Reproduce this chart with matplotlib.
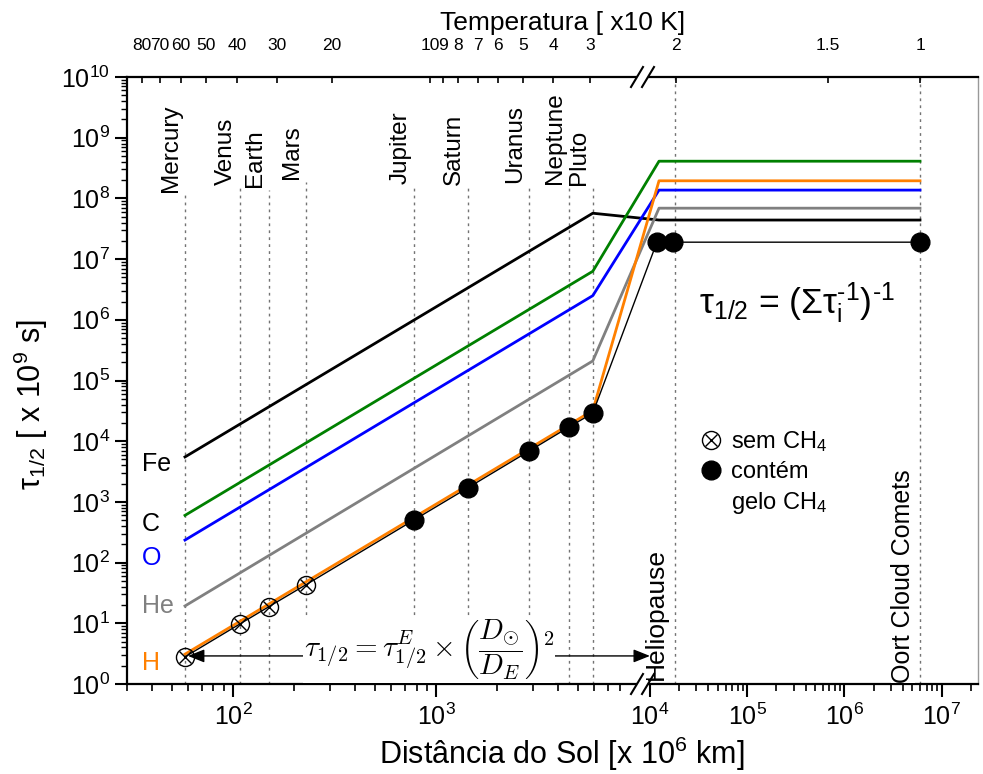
import numpy as np
import matplotlib
matplotlib.use('Agg')
import matplotlib.pyplot as plt
from matplotlib.lines import Line2D
from matplotlib.patches import Rectangle
from matplotlib.ticker import FixedLocator, FixedFormatter, NullLocator, LogLocator, FuncFormatter, NullFormatter
from matplotlib.legend_handler import HandlerTuple

plt.rcParams['font.family'] = ['Liberation Sans', 'DejaVu Sans']
plt.rcParams['mathtext.fontset'] = 'custom'
plt.rcParams['mathtext.rm'] = 'Liberation Sans'
plt.rcParams['mathtext.it'] = 'Liberation Sans:italic'
plt.rcParams['mathtext.bf'] = 'Liberation Sans:bold'
plt.rcParams['mathtext.sf'] = 'Liberation Sans'

# ---------------- data ----------------
planets = ['Mercury', 'Venus', 'Earth', 'Mars', 'Jupiter', 'Saturn', 'Uranus', 'Neptune', 'Pluto']
planet_dist = [57.9, 108.2, 149.6, 227.9, 778.5, 1433.5, 2872.5, 4495.1, 5906.4]
heliopause_dist = 1.8e4
oort_dist = 6.0e6

model_x = [57.9, 5906.4, 1.24e4, 6.0e6]
tau_Fe = [5.5e3, 5.7e7, 4.4e7, 4.4e7]
tau_C = [6.0e2, 6.3e6, 4.1e8, 4.1e8]
tau_O = [2.35e2, 2.5e6, 1.37e8, 1.37e8]
tau_He = [19.3, 2.1e5, 6.9e7, 6.9e7]
tau_H = [3.1, 3.2e4, 1.95e8, 1.95e8]

obs_x = [57.9, 108.2, 149.6, 227.9, 778.5, 1433.5, 2872.5, 4495.1, 5906.4, 1.18e4, 1.73e4, 6.0e6]
obs_tau = [2.8, 9.8, 18.7, 43, 505, 1710, 6900, 17000, 29000, 1.9e7, 1.9e7, 1.9e7]
n_no_ch4 = 4

elements = ['Fe', 'C', 'O', 'He', 'H']
element_text_colors = ['black', 'black', '#0000FF', '#808080', '#FF8000']
element_line_colors = ['black', '#008000', '#0000FF', '#808080', '#FF8000']
element_label_y = [4.2e3, 4.3e2, 1.19e2, 19.3, 2.2]
element_label_x = 35.6

temp_labels = ['80', '70', '60', '50', '40', '30', '20', '10', '9', '8', '7', '6', '5', '4', '3', '2', '1.5', '1']
temp_dist = [35.5, 43.6, 55.4, 73.4, 104.5, 164, 307, 933, 1081, 1282, 1610, 2020, 2680, 3767, 5730, 1.85e4, 6.8e5, 6.0e6]

x_major_exp = [2, 3, 4, 5, 6, 7]
x_minor = [30, 40, 50, 60, 70, 80, 90, 200, 300, 400, 500, 600, 700, 800, 900,
           2000, 3000, 4000, 5000, 6000, 7000, 8000,
           2e4, 3e4, 4e4, 5e4, 6e4, 7e4, 8e4, 9e4,
           2e5, 3e5, 4e5, 5e5, 6e5, 7e5, 8e5, 9e5,
           2e6, 3e6, 4e6, 5e6, 6e6, 7e6, 8e6, 9e6, 2e7]

# ---------------- broken log scale ----------------
L0 = np.log10(30.0)
S1 = 203.0
S2 = 97.2
LB1 = np.log10(9000.0)
LB2 = 4.0
PB1 = (LB1 - L0) * S1
PB2 = PB1 + 20.0


def fwd(x):
    x = np.asarray(x, dtype=float)
    lx = np.log10(np.where(x > 0, x, 1e-300))
    return np.where(lx <= LB1, (lx - L0) * S1,
                    np.where(lx <= LB2, PB1 + (lx - LB1) / (LB2 - LB1) * (PB2 - PB1),
                             PB2 + (lx - LB2) * S2))


def inv(p):
    p = np.asarray(p, dtype=float)
    lx = np.where(p <= PB1, p / S1 + L0,
                  np.where(p <= PB2, LB1 + (p - PB1) / (PB2 - PB1) * (LB2 - LB1),
                           LB2 + (p - PB2) / S2))
    return 10.0 ** lx


W, H = 983, 774
fig = plt.figure(figsize=(W / 100, H / 100), dpi=100)
ax = fig.add_axes([127 / W, (H - 684) / H, (978 - 127) / W, (684 - 77) / H])
ax.set_xscale('function', functions=(fwd, inv))
ax.set_yscale('log')
ax.set_xlim(30, 2.37e7)
ax.set_ylim(1, 1e10)

dot_style = dict(color='0.45', lw=1.0, ls=(0, (2, 3)), zorder=1)
planet_line_top = [0.806, 0.817, 0.814, 0.827, 0.819, 0.817, 0.820, 0.819, 0.817]
for name, x, top in zip(planets, planet_dist, planet_line_top):
    ax.axvline(x, 0, top, **dot_style)
    ax.annotate(name, xy=(x, top), xycoords=('data', 'axes fraction'),
                xytext=(-2, 2), textcoords='offset points', rotation=90,
                ha='right', va='bottom', fontsize=17.5)
ax.axvline(heliopause_dist, **dot_style)
ax.axvline(oort_dist, **dot_style)

# model lines
for vals, col in zip([tau_Fe, tau_C, tau_O, tau_He, tau_H], element_line_colors):
    ax.plot(model_x, vals, color=col, lw=2.0, zorder=2)

# observations
ax.plot(obs_x, obs_tau, color='k', lw=1.0, zorder=3)
ax.plot(obs_x[:n_no_ch4], obs_tau[:n_no_ch4], ls='none', marker='o', ms=13,
        mfc='none', mec='k', mew=1.0, zorder=4)
ax.plot(obs_x[:n_no_ch4], obs_tau[:n_no_ch4], ls='none', marker='x', ms=9.2,
        mec='k', mew=1.0, zorder=4)
ax.plot(obs_x[n_no_ch4:], obs_tau[n_no_ch4:], ls='none', marker='o', ms=13.5,
        color='k', zorder=4)

# element labels
for name, col, y in zip(elements, element_text_colors, element_label_y):
    ax.text(element_label_x, y, name, color=col, fontsize=18, ha='left', va='center')

# formulas
ax.text(925, 3.6, r'$\tau_{1/2} = \tau^{E}_{1/2}\times\left(\dfrac{D_{\odot}}{D_E}\right)^2$',
        math_fontfamily='cm', fontsize=21, ha='center', va='center', zorder=5,
        bbox=dict(fc='white', ec='none', pad=0.5))
ax.annotate('', xy=(59.9, 2.9), xytext=(226, 2.9),
            arrowprops=dict(arrowstyle='-|>,head_length=0.5,head_width=0.2', color='k',
                            lw=1, mutation_scale=20, shrinkA=0, shrinkB=0))
ax.annotate('', xy=(1.0e4, 2.9), xytext=(3725, 2.9),
            arrowprops=dict(arrowstyle='-|>,head_length=0.5,head_width=0.2', color='k',
                            lw=1, mutation_scale=20, shrinkA=0, shrinkB=0))
ax.text(3.26e5, 1.29e6, 'τ$_\\mathrm{1/2}$ = (Στ$_\\mathrm{i}^\\text{-1}$)$^\\text{-1}$',
        fontsize=25.5, ha='center', va='baseline')

ax.annotate('Heliopause', xy=(heliopause_dist, 0), xycoords=('data', 'axes fraction'),
            xytext=(-5, 3), textcoords='offset points', rotation=90,
            ha='right', va='bottom', fontsize=19)
ax.annotate('Oort Cloud Comets', xy=(oort_dist, 0), xycoords=('data', 'axes fraction'),
            xytext=(-3.5, 0.5), textcoords='offset points', rotation=90,
            ha='right', va='bottom', fontsize=18, zorder=6,
            bbox=dict(fc='white', ec='none', pad=0))

# legend
h_open = (Line2D([], [], ls='none', marker='o', ms=13, mfc='none', mec='k', mew=1.0),
          Line2D([], [], ls='none', marker='x', ms=9.2, mec='k', mew=1.0))
h_fill = Line2D([], [], ls='none', marker='o', ms=13.5, color='k')
h_none = Line2D([], [], ls='none')
ax.legend([h_open, h_fill, h_none], ['sem CH$_\\mathrm{4}$', 'contém', 'gelo CH$_\\mathrm{4}$'],
          handler_map={tuple: HandlerTuple(ndivide=1)}, loc='upper left',
          bbox_to_anchor=(700 / W, 1 - 429 / H), bbox_transform=fig.transFigure,
          frameon=False, fontsize=17, handlelength=0.95, handletextpad=0.38,
          labelspacing=0.3, borderpad=0, borderaxespad=0)

# axes styling
ax.xaxis.set_major_locator(FixedLocator([10.0 ** e for e in x_major_exp]))
ax.xaxis.set_major_formatter(FixedFormatter(['10$^\\mathrm{%d}$' % e for e in x_major_exp]))
ax.xaxis.set_minor_locator(FixedLocator(x_minor))
ax.xaxis.set_minor_formatter(NullFormatter())
ax.yaxis.set_major_locator(LogLocator(base=10, numticks=30))
ax.yaxis.set_minor_locator(LogLocator(base=10, subs=np.arange(2, 10), numticks=100))
ax.yaxis.set_major_formatter(FuncFormatter(lambda v, p: '10$^\\mathrm{%d}$' % round(np.log10(v))))
ax.yaxis.set_minor_formatter(NullFormatter())
ax.tick_params(axis='x', which='major', direction='out', length=9.4, width=1.5, labelsize=18, pad=5, top=False)
ax.tick_params(axis='x', which='minor', direction='out', length=5, width=1.2, top=False)
ax.tick_params(axis='y', which='major', direction='out', length=8.6, width=1.5, labelsize=18, pad=3.5)
ax.tick_params(axis='y', which='minor', direction='out', length=4.3, width=1.0)
for s in ['left', 'bottom']:
    ax.spines[s].set_linewidth(1.6)
ax.spines['top'].set_visible(False)
ax.spines['right'].set_color('0.6')
ax.spines['right'].set_linewidth(1.0)

ax.set_xlabel('Distância do Sol [x 10$^\\mathrm{6}$ km]', fontsize=22)
ax.xaxis.set_label_coords(0.511, -0.084)
ax.set_ylabel('τ$_\\mathrm{1/2}$ [ x 10$^\\mathrm{9}$ s]', fontsize=22)
ax.yaxis.set_label_coords(-0.09, 0.46)

# top temperature axis
ax2 = ax.twiny()
ax2.set_xscale('function', functions=(fwd, inv))
ax2.set_xlim(ax.get_xlim())
ax2.xaxis.set_major_locator(FixedLocator(temp_dist))
ax2.xaxis.set_major_formatter(FixedFormatter(temp_labels))
ax2.xaxis.set_minor_locator(NullLocator())
ax2.tick_params(axis='x', which='major', direction='in', length=4.3, width=1.2,
                labelsize=12.5, pad=17, top=True, bottom=False)
for s in ['left', 'right', 'bottom']:
    ax2.spines[s].set_visible(False)
ax2.spines['top'].set_linewidth(1.6)
ax2.set_xlabel('Temperatura [ x10 K]', fontsize=19)
ax2.xaxis.set_label_position('top')
ax2.xaxis.set_label_coords(0.512, 1.077)

# axis break marks
bx = [(637 - 127) / 851, (648 - 127) / 851]
dx, dy = 6 / 851, 10 / 607
for yb in [0.0, 1.0]:
    ax2.add_patch(Rectangle((bx[0], yb - 4 / 607), bx[1] - bx[0], 8 / 607, transform=ax2.transAxes,
                            fc='white', ec='none', clip_on=False, zorder=10))
    for xb in bx:
        ax2.add_line(Line2D([xb - dx, xb + dx], [yb - dy, yb + dy], transform=ax2.transAxes,
                            color='k', lw=1.5, clip_on=False, zorder=11))

fig.savefig('out.png', dpi=100)
